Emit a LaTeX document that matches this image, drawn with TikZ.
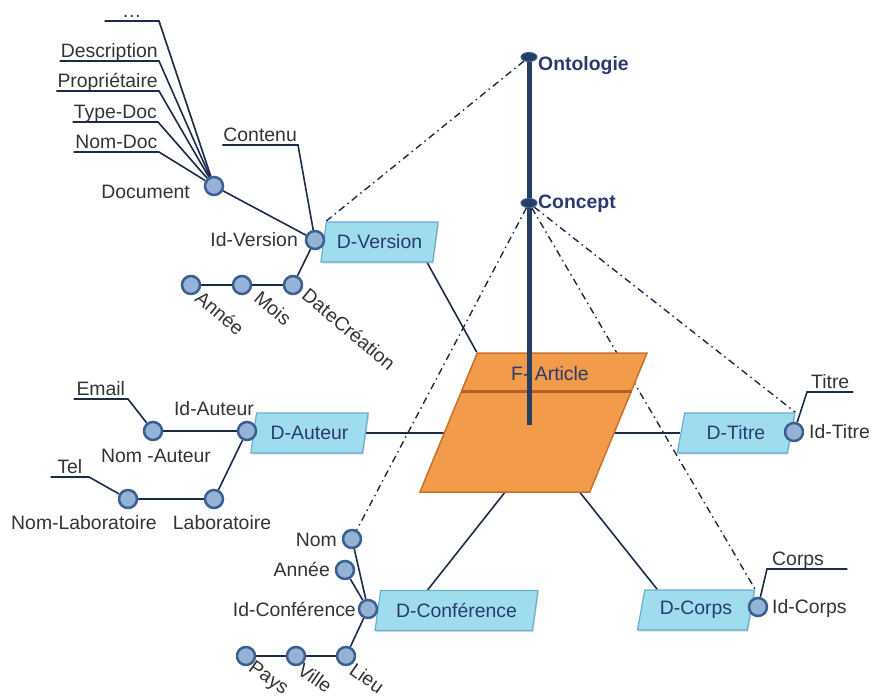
\documentclass[tikz,border=0pt]{standalone}
\usepackage{fontspec}
\setmainfont{Liberation Sans}
\usetikzlibrary{positioning,calc,shapes.geometric,shadows}
\pgfdeclarelayer{background}
\pgfsetlayers{background,main}

\definecolor{linenavy}{HTML}{1C2B4A}
\definecolor{axisnavy}{HTML}{243F63}
\definecolor{boxtext}{HTML}{2B3A6E}
\definecolor{attrtext}{HTML}{333333}
\definecolor{attrfill}{HTML}{95B3D7}
\definecolor{attrdraw}{HTML}{3B5F8F}
\definecolor{dimfill}{HTML}{9FDCEE}
\definecolor{dimdraw}{HTML}{68AFCC}
\definecolor{factfill}{HTML}{F29B4B}
\definecolor{factdraw}{HTML}{C96F2C}
\definecolor{factband}{HTML}{B5602A}

\begin{document}
\begin{tikzpicture}[
            x=1pt, y=-1pt,
            font=\fontsize{19.4}{22}\selectfont,
            dimbox/.style={trapezium, trapezium left angle=76, trapezium right angle=104, trapezium stretches=true, minimum width=118, minimum height=40, inner sep=2pt, draw=dimdraw, line width=1.2pt, fill=dimfill, text=boxtext, drop shadow={shadow xshift=1pt, shadow yshift=-1.5pt, opacity=.3}},
            factbox/.style={trapezium, trapezium left angle=63, trapezium right angle=117, trapezium stretches=true, minimum width=227, minimum height=139, draw=factdraw, line width=1.5pt, fill=factfill},
            band/.style={draw=factband, line width=2.5pt},
            attr/.style={circle, draw=attrdraw, line width=2.5pt, fill=attrfill, minimum size=18, inner sep=0pt},
            attrlbl/.style={text=attrtext, inner sep=1pt},
            rotlbl/.style={attrlbl, rotate=-40, inner sep=0pt},
            ulbl/.style={attrlbl, anchor=south east, text height=0.75em, text depth=0.25em},
            level/.style={ellipse, fill=axisnavy, draw=attrdraw, line width=1pt, minimum width=16, minimum height=9, inner sep=0pt},
            levellbl/.style={font=\fontsize{19.4}{22}\selectfont\bfseries, text=boxtext, anchor=west, inner sep=1pt},
            conn/.style={draw=linenavy, line width=1.6pt},
            mapline/.style={draw=linenavy, line width=1.4pt, dash pattern=on 7pt off 4pt on 1.5pt off 4pt},
            axis/.style={draw=axisnavy, line width=5pt}
        ]
        \useasboundingbox (0,0) rectangle (873,699);

        % Ontology levels
        \node[level] (onto) at (529,57) {};
        \node[level] (conc) at (529,203) {};
        \coordinate (axend) at (529,425);
        \node[levellbl] (lonto) at (537,66) {Ontologie};
        \node[levellbl] (lconc) at (537,204) {Concept};

        % Fact
        \node[factbox] (fart) at (533.5,422.5) {};
        \draw[band] ($(fart.top left corner)!0.28!(fart.bottom left corner)$) -- ($(fart.top right corner)!0.28!(fart.bottom right corner)$);
        \node[text=boxtext] (lfart) at (550,374) {F- Article};

        % Dimensions
        \node[dimbox] (dver) at (379.5,242) {D-Version};
        \node[dimbox] (daut) at (309.5,433) {D-Auteur};
        \node[dimbox] (dtitre) at (736,433) {D-Titre};
        \node[dimbox] (dcorps) at (696,610) {D-Corps};
        \node[dimbox, minimum width=163] (dconf) at (456.5,610.5) {D-Conférence};

        % D-Version attributes
        \node[attr] (doc) at (214,186) {};
        \node[attr] (idver) at (315,240) {};
        \node[attr] (datec) at (293,285) {};
        \node[attr] (mois) at (242,285) {};
        \node[attr] (anneev) at (191,285) {};
        \node[attrlbl, anchor=east] (ldoc) at (191,192) {Document};
        \node[attrlbl, anchor=east] (lidver) at (299,240) {Id-Version};
        \node[rotlbl] (lanneev) at (220,313) {Année};
        \node[rotlbl] (lmois) at (273,308) {Mois};
        \node[rotlbl] (ldatec) at (349,329) {DateCréation};
        \node[ulbl, minimum width=54] (letc) at (159,21) {…};
        \node[ulbl, minimum width=93] (ldesc) at (159,61) {Description};
        \node[ulbl, minimum width=93] (lprop) at (159,91) {Propriétaire};
        \node[ulbl, minimum width=83] (ltype) at (158,122) {Type-Doc};
        \node[ulbl, minimum width=85] (lnomdoc) at (159,152) {Nom-Doc};
        \node[ulbl, minimum width=70] (lcont) at (298,145) {Contenu};

        % D-Auteur attributes
        \node[attr] (idaut) at (247,431) {};
        \node[attr] (nomaut) at (153,431) {};
        \node[attr] (labo) at (214,499) {};
        \node[attr] (nomlabo) at (128,499) {};
        \node[attrlbl] (lidaut) at (214,409) {Id-Auteur};
        \node[attrlbl] (lnomaut) at (156,456) {Nom -Auteur};
        \node[attrlbl] (llabo) at (222,523) {Laboratoire};
        \node[attrlbl] (lnomlabo) at (84,523) {Nom-Laboratoire};
        \node[ulbl, minimum width=54] (lemail) at (128,399) {Email};
        \node[ulbl, minimum width=38] (ltel) at (89,477) {Tel};

        % D-Titre and D-Corps attributes
        \node[attr] (idtitre) at (794,432) {};
        \node[attrlbl, anchor=west] (lidtitre) at (808,432) {Id-Titre};
        \node[ulbl, anchor=south west, minimum width=46] (ltitre) at (807,392) {Titre};
        \node[attr] (idcorps) at (758,607) {};
        \node[attrlbl, anchor=west] (lidcorps) at (771,608) {Id-Corps};
        \node[ulbl, anchor=south west, text width=70, inner xsep=5pt, align=left] (lcorps) at (767,569) {Corps};

        % D-Conference attributes
        \node[attr] (idconf) at (368,609) {};
        \node[attr] (anneec) at (345,570) {};
        \node[attr] (nomc) at (352,539) {};
        \node[attr] (lieu) at (346,656) {};
        \node[attr] (ville) at (296,656) {};
        \node[attr] (pays) at (246,656) {};
        \node[attrlbl, anchor=east] (lidconf) at (357,609) {Id-Conférence};
        \node[attrlbl, anchor=east] (lanneec) at (331,569) {Année};
        \node[attrlbl, anchor=east] (lnomc) at (338,540) {Nom};
        \node[rotlbl, rotate=5] (lpays) at (268,679) {Pays};
        \node[rotlbl, rotate=5] (lville) at (315,678) {Ville};
        \node[rotlbl, rotate=5] (llieu) at (367,678) {Lieu};

        % Ontology axis
        \draw[axis] (onto.south) -- (conc.north);
        \draw[axis] (conc.south) -- (axend);

        \begin{pgfonlayer}{background}
        % Links to the ontology
        \draw[mapline] (onto) -- (dver.top left corner);
        \draw[mapline] (conc) -- (nomc);
        \draw[mapline] (conc) -- (dtitre.top right corner);
        \draw[mapline] (conc) -- (dcorps.top right corner);

        % Star links
        \draw[conn] ([xshift=-6pt]dver.bottom right corner) -- (fart.top left corner);
        \draw[conn] (daut.east) -- (daut.east -| fart.center);
        \draw[conn] (dtitre.west) -- (dtitre.west -| fart.center);
        \draw[conn] (fart.bottom side) -- ($(dconf.top left corner)!0.3!(dconf.top right corner)$);
        \draw[conn] ([xshift=-10pt]fart.bottom right corner) -- ([xshift=13pt]dcorps.top left corner);

        % Attribute links
        \draw[conn] (letc.south west) -- (letc.south east) -- (doc);
        \draw[conn] (ldesc.south west) -- (ldesc.south east) -- (doc);
        \draw[conn] (lprop.south west) -- (lprop.south east) -- (doc);
        \draw[conn] (ltype.south west) -- (ltype.south east) -- (doc);
        \draw[conn] (lnomdoc.south west) -- (lnomdoc.south east) -- (doc);
        \draw[conn] (doc) -- (idver);
        \draw[conn] (lcont.south west) -- (lcont.south east) -- (idver);
        \draw[conn] (idver) -- (datec);
        \draw[conn] (datec) -- (mois) -- (anneev);
        \draw[conn] (lemail.south west) -- (lemail.south east) -- (nomaut);
        \draw[conn] (nomaut) -- (idaut);
        \draw[conn] (idaut) -- (labo);
        \draw[conn] (labo) -- (nomlabo);
        \draw[conn] (ltel.south west) -- (ltel.south east) -- (nomlabo);
        \draw[conn] (ltitre.south east) -- (ltitre.south west) -- (idtitre);
        \draw[conn] (lcorps.south east) -- (lcorps.south west) -- (idcorps);
        \draw[conn] (idconf) -- (nomc);
        \draw[conn] (idconf) -- (anneec);
        \draw[conn] (idconf) -- (lieu);
        \draw[conn] (lieu) -- (ville) -- (pays);
        \end{pgfonlayer}
    \end{tikzpicture}
\end{document}
